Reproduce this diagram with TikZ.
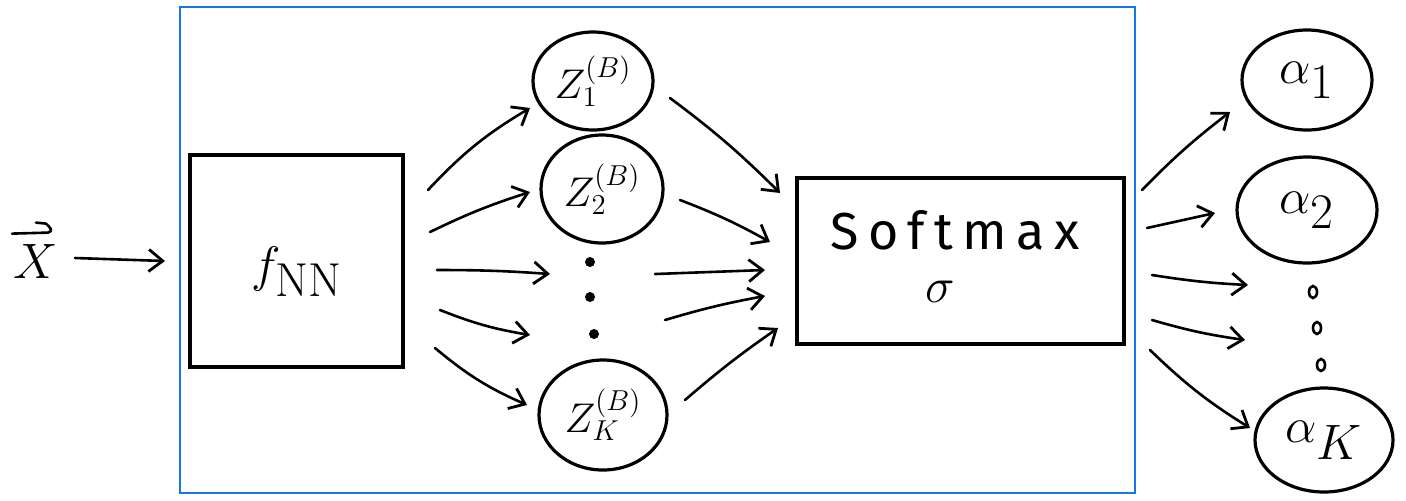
\documentclass[tikz,border=0pt]{standalone}
\usepackage{fontspec}
\usetikzlibrary{arrows.meta,calc,shapes.geometric}
\newfontfamily\handfont[LetterSpace=18]{Fira Sans}
\definecolor{frameblue}{HTML}{1A73E8}
\tikzset{
  box/.style={draw,line width=1.6pt,inner sep=0pt},
  blob/.style={draw,line width=1.6pt,ellipse,inner sep=0pt},
  lbl/.style={inner sep=0pt},
  arr/.style={line width=1.3pt,line cap=round,-{Straight Barb[length=7pt,width=11pt,line width=1.4pt]}},
  dotc/.style={fill,circle,inner sep=0pt,minimum size=5pt},
  odot/.style={draw,line width=1.3pt,ellipse,inner sep=0pt,minimum width=4pt,minimum height=6pt},
}
\begin{document}
\begin{tikzpicture}[x=0.5pt,y=-0.5pt]
\useasboundingbox (0,0) rectangle (1406,500);
% frame
\node[draw=frameblue,line width=1.4pt,minimum width=477.5pt,minimum height=243pt,inner sep=0pt] (frame) at (657.5,250) {};
% input
\node[lbl] (x) at (36,261) {\fontsize{30}{34}\selectfont $X$};
\draw[line width=1.3pt,line cap=round] ($(x.north)+(-24,-10)$) -- ++(36,-1) .. controls +(6,-2) and +(4,4) .. ++(-2,-9) -- ++(-10,-1);
% f_NN
\node[box,minimum width=106.5pt,minimum height=106pt] (fnn) at (296.5,261) {};
\node[lbl] (fnnlabel) at (297,272) {\fontsize{34}{38}\selectfont $f_{\mathrm{NN}}$};
% z nodes
\node[blob,minimum width=60pt,minimum height=49pt] (z1) at (593,81) {\fontsize{22}{26}\selectfont $Z_1^{(B)}$};
\node[blob,minimum width=61pt,minimum height=54pt] (z2) at (602,189) {\fontsize{22}{26}\selectfont $Z_2^{(B)}$};
\node[blob,minimum width=64pt,minimum height=55pt] (zk) at (603,415) {\fontsize{22}{26}\selectfont $Z_K^{(B)}$};
\node[dotc] (zd1) at (590,262) {};
\node[dotc] (zd2) at (590,297) {};
\node[dotc] (zd3) at (594,334) {};
% softmax
\node[box,minimum width=163.5pt,minimum height=83pt] (soft) at (960.5,261) {};
\node[lbl] (softlabel) at (955,230) {\fontsize{26}{30}\selectfont\handfont Softmax};
\node[lbl] (sigma) at (940,292) {\fontsize{30}{34}\selectfont $\sigma$};
% alpha nodes
\node[blob,minimum width=65pt,minimum height=50pt] (a1) at (1307,80) {\fontsize{34}{38}\selectfont $\alpha_1$};
\node[blob,minimum width=70pt,minimum height=53pt] (a2) at (1307,210) {\fontsize{34}{38}\selectfont $\alpha_2$};
\node[blob,minimum width=69pt,minimum height=52pt] (ak) at (1324,440) {\fontsize{34}{38}\selectfont $\alpha_K$};
\node[odot] (ad1) at (1313,292) {};
\node[odot] (ad2) at (1317,328) {};
\node[odot] (ad3) at (1321,365) {};
% connector end points
\coordinate (xs) at (75,258);  \coordinate (xe) at (165,261);
\coordinate (l1s) at (428,190); \coordinate (l1e) at (530,108);
\coordinate (l2s) at (430,232); \coordinate (l2e) at (530,192);
\coordinate (l3s) at (437,270); \coordinate (l3e) at (550,274);
\coordinate (l4s) at (440,310); \coordinate (l4e) at (530,335);
\coordinate (l5s) at (435,348); \coordinate (l5e) at (527,405);
\coordinate (m1s) at (670,98);  \coordinate (m1e) at (780,193);
\coordinate (m2s) at (680,200); \coordinate (m2e) at (770,242);
\coordinate (m3s) at (655,274); \coordinate (m3e) at (765,270);
\coordinate (m4s) at (665,320); \coordinate (m4e) at (765,296);
\coordinate (m5s) at (685,400); \coordinate (m5e) at (778,328);
\coordinate (r1s) at (1142,190); \coordinate (r1e) at (1230,112);
\coordinate (r2s) at (1147,228); \coordinate (r2e) at (1215,213);
\coordinate (r3s) at (1152,275); \coordinate (r3e) at (1248,285);
\coordinate (r4s) at (1152,320); \coordinate (r4e) at (1245,340);
\coordinate (r5s) at (1150,350); \coordinate (r5e) at (1250,428);
% connectors
\draw[arr] (xs) -- (xe);
\draw[arr] (l1s) to[bend left=8] (l1e);
\draw[arr] (l2s) to[bend left=4] (l2e);
\draw[arr] (l3s) to[bend left=2] (l3e);
\draw[arr] (l4s) to[bend right=6] (l4e);
\draw[arr] (l5s) to[bend right=8] (l5e);
\draw[arr] (m1s) to[bend left=4] (m1e);
\draw[arr] (m2s) to[bend left=4] (m2e);
\draw[arr] (m3s) -- (m3e);
\draw[arr] (m4s) to[bend left=3] (m4e);
\draw[arr] (m5s) to[bend left=3] (m5e);
\draw[arr] (r1s) to[bend left=4] (r1e);
\draw[arr] (r2s) -- (r2e);
\draw[arr] (r3s) to[bend right=3] (r3e);
\draw[arr] (r4s) to[bend right=4] (r4e);
\draw[arr] (r5s) to[bend right=6] (r5e);
\end{tikzpicture}
\end{document}
